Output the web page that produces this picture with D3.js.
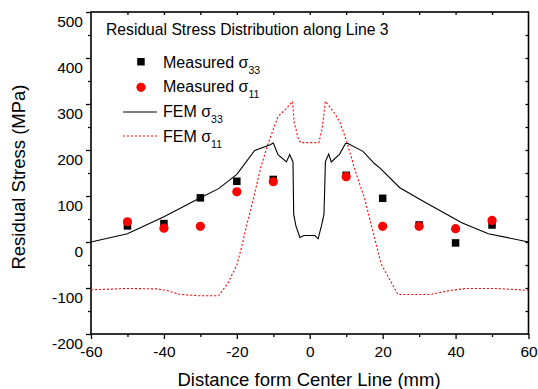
<!DOCTYPE html>
<html>
<head>
<meta charset="utf-8">
<script src="https://cdn.jsdelivr.net/npm/d3@7"></script>
<style>
  body { margin: 0; background: #fff; }
  svg text { font-family: "Liberation Sans", Arial, sans-serif; fill: #000; }
</style>
</head>
<body>
<div class="report"></div>
<script>
// measured points along line 3 (mm, MPa)
var measX = [-50, -40, -30, -20, -10, 10, 20, 30, 40, 50];
var meas33 = [35, 40, 96, 132, 136, 145, 95, 37, -2, 37];
var meas11 = [44, 30, 34, 109, 131, 142, 34, 34, 29, 47];

// FEM sigma_33 (solid black)
var fem33X = [-60, -50, -40, -30, -25, -20, -15.1, -11, -10, -8.7, -6.4, -5.5, -4.6, -4.4, -3.8, -2.7, -1.6,
              1.4, 2.3, 3.2, 3.9, 4.3, 5.2, 5.9, 8.2, 9.8, 10.5, 14.6, 17.8, 19.2, 24.7, 31, 41.7, 49, 60];
var fem33Y = [0, 18, 55, 96, 116, 147, 199, 211, 215, 190, 174, 190, 174, 60, 35, 10, 14,
              14, 7, 35, 60, 175, 191, 174, 191, 214, 214, 197, 170, 161, 118, 89, 42, 18, 0];

// FEM sigma_11 (dotted red)
var fem11X = [-60, -50, -42, -39, -35.6, -30, -25, -22.5, -20, -18.5, -17.5, -15.6, -13.5, -11.5, -8.7, -6.8, -4.7,
              -4.3, -3.2, -2.5, 2.5, 3.4, 4.3, 6.8, 8.2, 10.1, 12.8, 15, 17.3, 19.6, 24.2, 33, 38.8, 43, 51, 60];
var fem11Y = [-104, -101, -102, -106, -114, -117, -117, -90, -50, -5, 30, 89, 160, 212, 273, 287, 306,
              262, 226, 216, 216, 247, 306, 280, 262, 219, 147, 96, 24, -48, -114, -114, -105, -101, -101, -105];

var xTicks = [-60, -40, -20, 0, 20, 40, 60];
var yTicks = [-200, -100, 0, 100, 200, 300, 400, 500];

var W = 538, H = 389;
var svg = d3.select(".report").append("svg").attr("width", W).attr("height", H);

var x = d3.scaleLinear().domain([-60, 60]).range([91, 528.5]);
var y = d3.scaleLinear().domain([-200, 500]).range([334, 12]);

function zip(xs, ys) { return xs.map(function (v, i) { return [v, ys[i]]; }); }
function plain(d) { return String(d); }   // keep the ascii hyphen for negatives

var line = d3.line()
    .x(function (d) { return x(d[0]); })
    .y(function (d) { return y(d[1]); });

// plot frame
svg.append("rect")
    .attr("x", x(-60)).attr("y", y(500))
    .attr("width", x(60) - x(-60)).attr("height", y(-200) - y(500))
    .attr("fill", "none").attr("stroke", "#000").attr("stroke-width", 1.6);

function tidy(g) { g.select(".domain").remove(); g.selectAll("line").attr("stroke", "#000").attr("stroke-width", 1.3); }

// bottom axis
svg.append("g").attr("transform", "translate(0," + y(-200) + ")")
    .call(d3.axisBottom(x).tickValues(xTicks).tickSize(5).tickPadding(7).tickFormat(plain))
    .call(tidy)
    .selectAll("text").attr("font-size", 15.5).attr("font-family", "Liberation Sans, Arial");
svg.append("g").attr("transform", "translate(0," + y(-200) + ")")
    .call(d3.axisBottom(x).tickValues([-50, -30, -10, 10, 30, 50]).tickSize(3).tickFormat(""))
    .call(tidy);

// left axis
var gl = svg.append("g").attr("transform", "translate(" + x(-60) + ",0)")
    .call(d3.axisLeft(y).tickValues(yTicks).tickSize(5).tickPadding(3).tickFormat(plain))
    .call(tidy);
gl.selectAll("text").attr("font-size", 15.5).attr("dy", "0.95em").attr("font-family", "Liberation Sans, Arial");
svg.append("g").attr("transform", "translate(" + x(-60) + ",0)")
    .call(d3.axisLeft(y).tickValues([-150, -50, 50, 150, 250, 350, 450]).tickSize(3).tickFormat(""))
    .call(tidy);

// top and right axes, inward ticks
svg.append("g").attr("transform", "translate(0," + y(500) + ")")
    .call(d3.axisTop(x).tickValues(d3.range(-50, 60, 10)).tickSize(-3).tickFormat(""))
    .call(tidy);
svg.append("g").attr("transform", "translate(" + x(60) + ",0)")
    .call(d3.axisRight(y).tickValues(d3.range(-150, 500, 50)).tickSize(-3).tickFormat(""))
    .call(tidy);

// axis titles
svg.append("text")
    .attr("x", 309).attr("y", 386)
    .attr("text-anchor", "middle").attr("font-size", 18.5)
    .text("Distance form Center Line (mm)");
svg.append("text")
    .attr("transform", "translate(25,177) rotate(-90)")
    .attr("text-anchor", "middle").attr("font-size", 18.5)
    .text("Residual Stress (MPa)");

// FEM curves
svg.append("path")
    .datum(zip(fem11X, fem11Y))
    .attr("d", line)
    .attr("fill", "none").attr("stroke", "#ff0000").attr("stroke-width", 1.1)
    .attr("stroke-dasharray", "2,2");
svg.append("path")
    .datum(zip(fem33X, fem33Y))
    .attr("d", line)
    .attr("fill", "none").attr("stroke", "#000").attr("stroke-width", 1.1);

// measured points
svg.selectAll(".sq")
    .data(zip(measX, meas33))
    .enter().append("rect")
    .attr("class", "sq")
    .attr("x", function (d) { return x(d[0]) - 3.75; })
    .attr("y", function (d) { return y(d[1]) - 3.75; })
    .attr("width", 7.5).attr("height", 7.5)
    .attr("fill", "#000");
svg.selectAll(".dot")
    .data(zip(measX, meas11))
    .enter().append("circle")
    .attr("class", "dot")
    .attr("cx", function (d) { return x(d[0]); })
    .attr("cy", function (d) { return y(d[1]); })
    .attr("r", 4.6)
    .attr("fill", "#ff0000");

// title + legend
svg.append("text")
    .attr("x", 106).attr("y", 35)
    .attr("font-size", 15.7)
    .text("Residual Stress Distribution along Line 3");

function legendLabel(yy, main, sub) {
    var t = svg.append("text").attr("x", 163).attr("y", yy).attr("font-size", 16);
    t.append("tspan").text(main);
    t.append("tspan").attr("dy", 6).attr("font-size", 10.5).text(sub);
}
svg.append("rect").attr("x", 137.2).attr("y", 58).attr("width", 7.5).attr("height", 7.5).attr("fill", "#000");
legendLabel(67.5, "Measured σ", "33");
svg.append("circle").attr("cx", 141).attr("cy", 87.3).attr("r", 4.6).attr("fill", "#ff0000");
legendLabel(92, "Measured σ", "11");
svg.append("line").attr("x1", 123).attr("x2", 157).attr("y1", 112).attr("y2", 112)
    .attr("stroke", "#000").attr("stroke-width", 1.1);
legendLabel(117, "FEM σ", "33");
svg.append("line").attr("x1", 123).attr("x2", 157).attr("y1", 136).attr("y2", 136)
    .attr("stroke", "#ff0000").attr("stroke-width", 1.1).attr("stroke-dasharray", "2,2");
legendLabel(141.7, "FEM σ", "11");
</script>
</body>
</html>
